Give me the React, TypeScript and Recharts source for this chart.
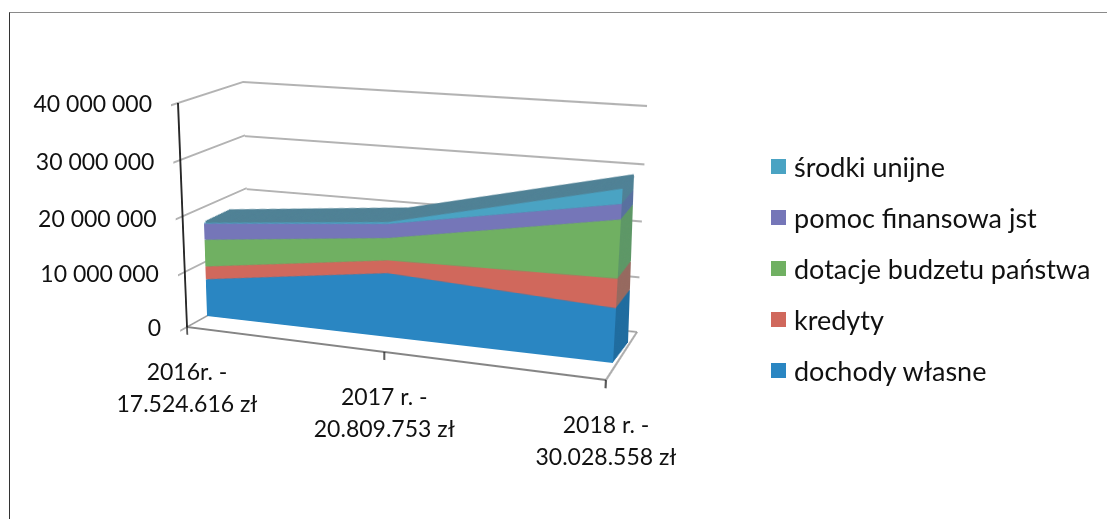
import React from 'react';
import { AreaChart, Area, XAxis, YAxis, CartesianGrid, Legend } from 'recharts';

// ---------- data ----------
const categories = ['2016r. -|17.524.616 zł', '2017 r. -|20.809.753 zł', '2018 r. -|30.028.558 zł'];
const dochodyWlasne = [7000000, 11700000, 9700000];
const kredyty = [2400000, 2300000, 5100000];
const dotacje = [5000000, 4000000, 10100000];
const pomoc = [3000000, 2500000, 2600000];
const srodki = [124616, 309753, 2528558];
const yTicks = [0, 10000000, 20000000, 30000000, 40000000];
const seriesNames = ['dochody własne', 'kredyty', 'dotacje budzetu państwa', 'pomoc finansowa jst', 'środki unijne'];

const rows = categories.map((c, i) => ({
  cat: c,
  s0: dochodyWlasne[i],
  s1: kredyty[i],
  s2: dotacje[i],
  s3: pomoc[i],
  s4: srodki[i],
}));

// ---------- styles ----------
const frontColors = ['#2a86c2', '#d0685c', '#70b062', '#7576b8', '#4aa3c3'];
const sideColors = ['#1f6c9f', '#96695f', '#5d9766', '#58709f', '#4f8195'];
const topFace = '#4f8195';
const FONT = 'Lato, Carlito, sans-serif';
const GRID = '#9a9a9a';
const INK = '#111';
const W = 460;
const H = 260;
const M = 20;
const DOMAIN: [number, number] = [0, 40000000];

type P = [number, number];
type Quad = [P, P, P, P]; // TL, TR, BR, BL

function homography(q: Quad) {
  const [[x0, y0], [x1, y1], [x2, y2], [x3, y3]] = q;
  const dx1 = x1 - x2, dx2 = x3 - x2, dx3 = x0 - x1 + x2 - x3;
  const dy1 = y1 - y2, dy2 = y3 - y2, dy3 = y0 - y1 + y2 - y3;
  const den = dx1 * dy2 - dx2 * dy1;
  const g = (dx3 * dy2 - dx2 * dy3) / den;
  const h = (dx1 * dy3 - dx3 * dy1) / den;
  return { a: x1 - x0 + g * x1, b: x3 - x0 + h * x3, c: x0, d: y1 - y0 + g * y1, e: y3 - y0 + h * y3, f: y0, g, h };
}
function project(q: Quad, u: number, v: number): P {
  const m = homography(q);
  const w = m.g * u + m.h * v + 1;
  return [(m.a * u + m.b * v + m.c) / w, (m.d * u + m.e * v + m.f) / w];
}
function matrixFor(q: Quad, sx: number, sy: number, sw: number, sh: number) {
  const { a, b, c, d, e, f, g, h } = homography(q);
  const h00 = a / sw, h01 = b / sh, h02 = c - (a * sx) / sw - (b * sy) / sh;
  const h10 = d / sw, h11 = e / sh, h12 = f - (d * sx) / sw - (e * sy) / sh;
  const h20 = g / sw, h21 = h / sh, h22 = 1 - (g * sx) / sw - (h * sy) / sh;
  return `matrix3d(${[h00, h10, 0, h20, h01, h11, 0, h21, 0, 0, 1, 0, h02, h12, 0, h22].join(',')})`;
}
const lerpQuad = (a: Quad, b: Quad, t: number): Quad =>
  a.map((p, i) => [p[0] + (b[i][0] - p[0]) * t, p[1] + (b[i][1] - p[1]) * t]) as Quad;

// category scale whose middle point is displaced, as in the foreshortened 3-D original
function warpScale(mid: number) {
  let dom: any[] = [];
  let rng: number[] = [0, 1];
  const s: any = (v: any) => {
    const i = dom.indexOf(v);
    if (i < 0) return undefined;
    const t = i === 0 ? 0 : i === dom.length - 1 ? 1 : mid;
    return rng[0] + t * (rng[1] - rng[0]);
  };
  s.domain = (d?: any[]) => { if (d) { dom = [...d]; return s; } return dom; };
  s.range = (r?: number[]) => { if (r) { rng = [...r]; return s; } return rng; };
  s.copy = () => { const c = warpScale(mid); c.domain(dom); c.range(rng); return c; };
  s.bandwidth = () => 0;
  return s;
}

const AREA_MID = 0.464;
const AXIS_MID = 0.49;

const frontQuad: Quad = [[200, 98], [626, 128], [613, 363], [207, 316]];
const backQuad: Quad = [[225, 90], [636, 118], [628, 343], [232, 302]];
const wallQuad: Quad = [[243, 82], [647, 106], [637, 332], [250, 292]];
const leftWallQuad: Quad = [[178, 103], [243, 82], [250, 292], [187, 327]];
const floorQuad: Quad = [[250, 292], [637, 332], [606, 380], [187, 327]];
const axisQuad: Quad = [[178, 103], [619, 140], [606, 380], [187, 327]];
const DEPTH_LAYERS = 16;

const Plane = ({ quad, w = W, h = H, children }: any) => (
  <div style={{ position: 'absolute', left: 0, top: 0, width: w, height: h, transformOrigin: '0 0', transform: matrixFor(quad, M, M, w - 2 * M, h - 2 * M) }}>
    {children}
  </div>
);
const margin = { top: M, right: M, bottom: M, left: M };
const axisMargin = { top: M, right: M, bottom: M - 1, left: M - 1 };
const blank = () => '';

const StackChart = ({ colors, outline }: { colors: string[]; outline: boolean }) => (
  <AreaChart width={W} height={H} data={rows} margin={margin}>
    <XAxis dataKey="cat" hide scale={warpScale(AREA_MID)} />
    <YAxis hide domain={DOMAIN} />
    {colors.map((c, i) => (
      <Area
        key={i}
        type="linear"
        dataKey={`s${i}`}
        stackId="a"
        fill={c}
        fillOpacity={1}
        stroke={outline && i === 4 ? topFace : 'none'}
        strokeWidth={outline && i === 4 ? 3 : 0}
        isAnimationActive={false}
        dot={false}
        activeDot={false}
      />
    ))}
  </AreaChart>
);

const Ghost = () => <Area dataKey="s0" fill="none" stroke="none" isAnimationActive={false} dot={false} activeDot={false} />;

const PLOT_OVER = { left: 100, right: 100, top: 50, bottom: 50 };
const OW = 1107, OH = 519;
const overMargin = { left: 99, right: 100, top: 50, bottom: 49 };

const XLabel = ({ x, payload }: any) => {
  const t = (x - PLOT_OVER.left) / (OW - PLOT_OVER.left - PLOT_OVER.right);
  const [px, py] = project(axisQuad, t, 1);
  const [a, b] = String(payload.value).split('|');
  return (
    <text textAnchor="middle" fontFamily={FONT} fontSize={23} fill={INK}>
      <tspan x={px} y={py + 53}>{a}</tspan>
      <tspan x={px} y={py + 85}>{b}</tspan>
    </text>
  );
};
const YLabel = ({ y, payload }: any) => {
  const v = (y - PLOT_OVER.top) / (OH - PLOT_OVER.top - PLOT_OVER.bottom);
  const [px, py] = project(axisQuad, 0, v);
  const txt = String(payload.value).replace(/\B(?=(\d{3})+$)/g, ' ');
  return (
    <text x={px - 26} y={py + 9} textAnchor="end" fontFamily={FONT} fontSize={23} fill={INK}>{txt}</text>
  );
};

const LegendBody = () => (
  <div style={{ fontFamily: FONT, fontSize: 27, color: INK }}>
    {[4, 3, 2, 1, 0].map((i) => (
      <div key={i} style={{ height: 51, display: 'flex', alignItems: 'center', whiteSpace: 'nowrap' }}>
        <span style={{ width: 15, height: 15, background: frontColors[i], marginRight: 8, display: 'inline-block' }} />
        <span>{seriesNames[i]}</span>
      </div>
    ))}
  </div>
);

export default function App() {
  const layers = Array.from({ length: DEPTH_LAYERS }, (_, i) => i / DEPTH_LAYERS);
  return (
    <div style={{ position: 'fixed', left: 0, top: 0, width: OW, height: OH, overflow: 'hidden', background: '#fff' }}>
      <Plane quad={floorQuad}>
        <AreaChart width={W} height={H} data={rows} margin={margin}>
          <XAxis dataKey="cat" hide />
          <YAxis hide domain={[0, 1]} ticks={[0, 1]} />
          <CartesianGrid stroke={GRID} strokeWidth={1.6} vertical horizontal verticalPoints={[M, W - M]} />
        </AreaChart>
      </Plane>
      <Plane quad={wallQuad}>
        <AreaChart width={W} height={H} data={rows} margin={margin}>
          <XAxis dataKey="cat" hide />
          <YAxis hide domain={DOMAIN} ticks={yTicks} />
          <CartesianGrid stroke={GRID} strokeWidth={1.6} vertical={false} />
          <Ghost />
        </AreaChart>
      </Plane>
      <Plane quad={leftWallQuad} w={120}>
        <AreaChart width={120} height={H} data={rows} margin={{ ...margin, left: M - 1 }}>
          <XAxis dataKey="cat" hide />
          <YAxis domain={DOMAIN} ticks={yTicks} width={1} tickFormatter={blank} tickSize={8} axisLine={false} tickLine={{ stroke: GRID, strokeWidth: 1.5 }} />
          <CartesianGrid stroke={GRID} strokeWidth={1.6} vertical={false} />
          <Ghost />
        </AreaChart>
      </Plane>
      <Plane quad={axisQuad}>
        <AreaChart width={W} height={H} data={rows} margin={axisMargin}>
          <XAxis dataKey="cat" scale={warpScale(AXIS_MID)} height={1} tickFormatter={blank} tickSize={8} interval={0} axisLine={{ stroke: '#858585', strokeWidth: 1.8 }} tickLine={{ stroke: '#222', strokeWidth: 1.5 }} />
          <YAxis domain={DOMAIN} ticks={yTicks} width={1} tick={false} tickLine={false} axisLine={{ stroke: '#111', strokeWidth: 1.8 }} />
          <Ghost />
        </AreaChart>
      </Plane>
      {layers.map((t) => (
        <Plane key={t} quad={lerpQuad(backQuad, frontQuad, t)}>
          <StackChart colors={sideColors} outline />
        </Plane>
      ))}
      <Plane quad={frontQuad}>
        <StackChart colors={frontColors} outline={false} />
      </Plane>
      <div style={{ position: 'absolute', left: 0, top: 0 }}>
        <AreaChart width={OW} height={OH} data={rows} margin={overMargin} style={{ overflow: 'visible' }}>
          <XAxis dataKey="cat" scale={warpScale(AXIS_MID)} height={1} axisLine={false} tickLine={false} interval={0} tick={<XLabel />} />
          <YAxis domain={DOMAIN} ticks={yTicks} width={1} axisLine={false} tickLine={false} interval={0} tick={<YLabel />} />
          <Ghost />
        </AreaChart>
      </div>
      <div style={{ position: 'absolute', left: 0, top: 0 }}>
        <AreaChart width={OW} height={OH} data={rows} margin={margin}>
          <Legend layout="vertical" align="left" verticalAlign="top" content={<LegendBody />} wrapperStyle={{ left: 771, top: 141, width: 336 }} />
          <Ghost />
        </AreaChart>
      </div>
      <div style={{ position: 'absolute', left: 9, top: 12, width: 1098, height: 507, borderTop: '1.5px solid #8a8a8a', borderLeft: '1.5px solid #333' }} />
    </div>
  );
}
